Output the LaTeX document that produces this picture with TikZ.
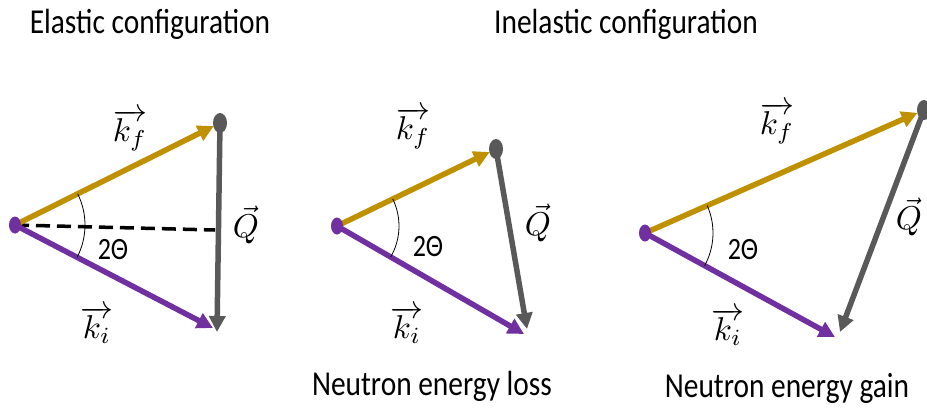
\documentclass[tikz,border=0pt]{standalone}
\usepackage{graphicx}
\usepackage{fontspec}
\setmainfont{Carlito}[FakeStretch=0.84]
\usetikzlibrary{arrows.meta,angles,shapes.geometric}
\definecolor{kfgold}{HTML}{BF9000}
\definecolor{kipurple}{HTML}{7030A0}
\definecolor{qgrey}{HTML}{595959}
\newcommand{\veclab}[1]{\scalebox{3.3}{$#1$}}

\begin{document}
\begin{tikzpicture}[x=1pt,y=-1pt,
    vec/.style={line width=5.5pt,-{Triangle[length=16pt,width=16pt]}},
    kfvec/.style={vec,kfgold,shorten >=7pt},
    kivec/.style={vec,kipurple},
    qvec/.style={vec,qgrey},
    startdot/.style={ellipse,fill=kipurple,inner sep=0pt,minimum width=12pt,minimum height=17pt},
    enddot/.style={ellipse,fill=qgrey,inner sep=0pt,minimum width=14pt,minimum height=20pt},
    title/.style={anchor=base,font=\fontsize{35}{40}\selectfont},
    veclabel/.style={inner sep=0pt},
    anglabel/.style={font=\fontsize{31}{34}\selectfont}]
    \useasboundingbox (0,0) rectangle (927,408);

    % titles
    \node[title] (elastic) at (150,33) {Elastic configuration};
    \node[title] (inelastic) at (626,33) {Inelastic configuration};
    \node[title] (loss) at (432,395) {Neutron energy loss};
    \node[title] (gain) at (787,397) {Neutron energy gain};

    % elastic
    \coordinate (o1) at (15,225);
    \coordinate (g1) at (220,123);
    \coordinate (q1) at (217,332);
    \coordinate (i1) at (213,328);
    \coordinate (d1) at (215,230);
    \draw[line width=3.5pt,dash pattern=on 14pt off 7pt] (o1) -- (d1);
    \draw[kfvec] (o1) -- (g1);
    \draw[qvec] (g1) -- (q1);
    \draw[kivec] (o1) -- (i1);
    \pic[draw,line width=0.8pt,angle radius=70pt] {angle=i1--o1--g1};
    \node[startdot] (s1) at (o1) {};
    \node[enddot] (e1) at (g1) {};
    \node[veclabel] (kf1) at (130,130) {\veclab{\overrightarrow{k_f}}};
    \node[veclabel] (ki1) at (97,325) {\veclab{\overrightarrow{k_i}}};
    \node[veclabel] (Q1) at (246,225) {\veclab{\vec{Q}}};
    \node[anglabel] (th1) at (113,250) {2Θ};

    % energy loss
    \coordinate (o2) at (337,226);
    \coordinate (g2) at (496,149);
    \coordinate (q2) at (527,329);
    \coordinate (i2) at (524,334);
    \draw[kfvec] (o2) -- (g2);
    \draw[qvec] (g2) -- (q2);
    \draw[kivec] (o2) -- (i2);
    \pic[draw,line width=0.8pt,angle radius=62pt] {angle=i2--o2--g2};
    \node[startdot] (s2) at (o2) {};
    \node[enddot] (e2) at (g2) {};
    \node[veclabel] (kf2) at (413,128) {\veclab{\overrightarrow{k_f}}};
    \node[veclabel] (ki2) at (407,325) {\veclab{\overrightarrow{k_i}}};
    \node[veclabel] (Q2) at (538,223) {\veclab{\vec{Q}}};
    \node[anglabel] (th2) at (428,247) {2Θ};

    % energy gain
    \coordinate (o3) at (645,233);
    \coordinate (g3) at (924,110);
    \coordinate (q3) at (840,332);
    \coordinate (i3) at (835,337);
    \draw[kfvec] (o3) -- (g3);
    \draw[qvec] (g3) -- (q3);
    \draw[kivec] (o3) -- (i3);
    \pic[draw,line width=0.8pt,angle radius=68pt] {angle=i3--o3--g3};
    \node[startdot] (s3) at (o3) {};
    \node[enddot] (e3) at (g3) {};
    \node[veclabel] (kf3) at (777,123) {\veclab{\overrightarrow{k_f}}};
    \node[veclabel] (ki3) at (728,327) {\veclab{\overrightarrow{k_i}}};
    \node[veclabel] (Q3) at (909,217) {\veclab{\vec{Q}}};
    \node[anglabel] (th3) at (743,250) {2Θ};
\end{tikzpicture}
\end{document}
